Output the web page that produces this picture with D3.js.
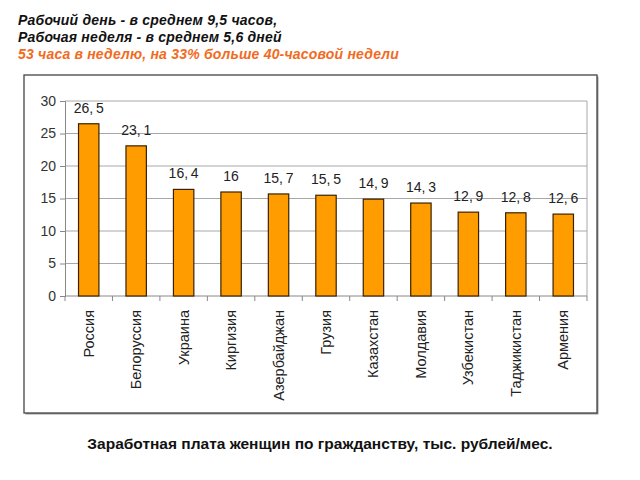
<!DOCTYPE html>
<html lang="ru">
<head>
<meta charset="UTF-8">
<title>Заработная плата женщин</title>
<script src="https://cdnjs.cloudflare.com/ajax/libs/d3/7.8.5/d3.min.js"></script>
<style>
  body { margin: 0; background: #fff; }
  svg { display: block; font-family: "Liberation Sans", Arial, sans-serif; }
</style>
</head>
<body>
<div id="chart"></div>
<script>
// data
var countries = ["Россия", "Белоруссия", "Украина", "Киргизия", "Азербайджан", "Грузия",
                 "Казахстан", "Молдавия", "Узбекистан", "Таджикистан", "Армения"];
var salary = [26.5, 23.1, 16.4, 16, 15.7, 15.5, 14.9, 14.3, 12.9, 12.8, 12.6];
var yTicks = [0, 5, 10, 15, 20, 25, 30];

var headLines = [
  {text: "Рабочий день - в среднем 9,5 часов,", color: "#111"},
  {text: "Рабочая неделя - в среднем 5,6 дней", color: "#111"},
  {text: "53 часа в неделю, на 33% больше 40-часовой недели", color: "#f26a21"}
];
var caption = "Заработная плата женщин по гражданству, тыс. рублей/мес.";

var W = 640, H = 480;
var plot = {left: 65, right: 587, top: 101, bottom: 296};

var svg = d3.select("#chart").append("svg")
    .attr("width", W).attr("height", H);

// heading lines
svg.selectAll("text.head")
    .data(headLines)
  .enter().append("text")
    .attr("class", "head")
    .attr("x", 18)
    .attr("y", function(d, i) { return 25 + i * 17; })
    .attr("font-size", "14px")
    .attr("font-weight", "bold")
    .attr("font-style", "italic")
    .attr("letter-spacing", "0.2px")
    .attr("fill", function(d) { return d.color; })
    .text(function(d) { return d.text; });

// outer frame with a light shadow
svg.append("rect")
    .attr("x", 25.5).attr("y", 76.5).attr("width", 573).attr("height", 338)
    .attr("fill", "#999");
svg.append("rect")
    .attr("x", 24).attr("y", 75).attr("width", 573).attr("height", 338)
    .attr("fill", "#fff").attr("stroke", "#444").attr("stroke-width", 1.3);

var x = d3.scaleBand()
    .domain(countries)
    .range([plot.left, plot.right])
    .paddingInner(0.57)
    .paddingOuter(0.285);

var y = d3.scaleLinear()
    .domain([0, 30])
    .range([plot.bottom, plot.top]);

// gridlines
svg.append("g")
    .selectAll("line")
    .data(yTicks.filter(function(d) { return d > 0; }))
  .enter().append("line")
    .attr("x1", plot.left).attr("x2", plot.right)
    .attr("y1", function(d) { return y(d); })
    .attr("y2", function(d) { return y(d); })
    .attr("stroke", "#a8a8a8").attr("stroke-width", 1);

// right border of plot area
svg.append("line")
    .attr("x1", plot.right).attr("x2", plot.right)
    .attr("y1", plot.top).attr("y2", plot.bottom)
    .attr("stroke", "#a8a8a8");

// y axis
var yAxis = svg.append("g")
    .attr("transform", "translate(" + plot.left + ",0)")
    .call(d3.axisLeft(y).tickValues(yTicks).tickSize(5).tickPadding(4));
yAxis.select(".domain").attr("stroke", "#888");
yAxis.selectAll(".tick line").attr("stroke", "#888");
yAxis.selectAll("text")
    .attr("font-size", "14px")
    .attr("font-family", "Liberation Sans, Arial, sans-serif")
    .attr("fill", "#333");

// x axis line and separator ticks
svg.append("line")
    .attr("x1", plot.left).attr("x2", plot.right)
    .attr("y1", plot.bottom).attr("y2", plot.bottom)
    .attr("stroke", "#888");
var step = x.step();
svg.append("g")
    .selectAll("line")
    .data(d3.range(countries.length + 1))
  .enter().append("line")
    .attr("x1", function(i) { return plot.left + i * step; })
    .attr("x2", function(i) { return plot.left + i * step; })
    .attr("y1", plot.bottom).attr("y2", plot.bottom + 5)
    .attr("stroke", "#888");

// bars
svg.append("g")
    .selectAll("rect")
    .data(salary)
  .enter().append("rect")
    .attr("x", function(d, i) { return x(countries[i]); })
    .attr("y", function(d) { return y(d); })
    .attr("width", x.bandwidth())
    .attr("height", function(d) { return plot.bottom - y(d); })
    .attr("fill", "#ff9c00")
    .attr("stroke", "#3a2200")
    .attr("stroke-width", 1.2);

// value labels
svg.append("g")
    .selectAll("text")
    .data(salary)
  .enter().append("text")
    .attr("x", function(d, i) { return x(countries[i]) + x.bandwidth() / 2; })
    .attr("y", function(d) { return y(d) - 11; })
    .attr("text-anchor", "middle")
    .attr("font-size", "14px")
    .attr("fill", "#222")
    .text(function(d) { return String(d).replace(".", ",\u2009"); });

// category labels, rotated
svg.append("g")
    .selectAll("text")
    .data(countries)
  .enter().append("text")
    .attr("transform", function(d) {
      return "translate(" + (x(d) + x.bandwidth() / 2 + 5) + "," + (plot.bottom + 14) + ") rotate(-90)";
    })
    .attr("text-anchor", "end")
    .attr("font-size", "14.5px")
    .attr("fill", "#222")
    .text(function(d) { return d; });

// caption
svg.append("text")
    .attr("x", 320).attr("y", 449)
    .attr("text-anchor", "middle")
    .attr("font-size", "15.5px")
    .attr("font-weight", "bold")
    .attr("fill", "#111")
    .text(caption);
</script>
</body>
</html>
